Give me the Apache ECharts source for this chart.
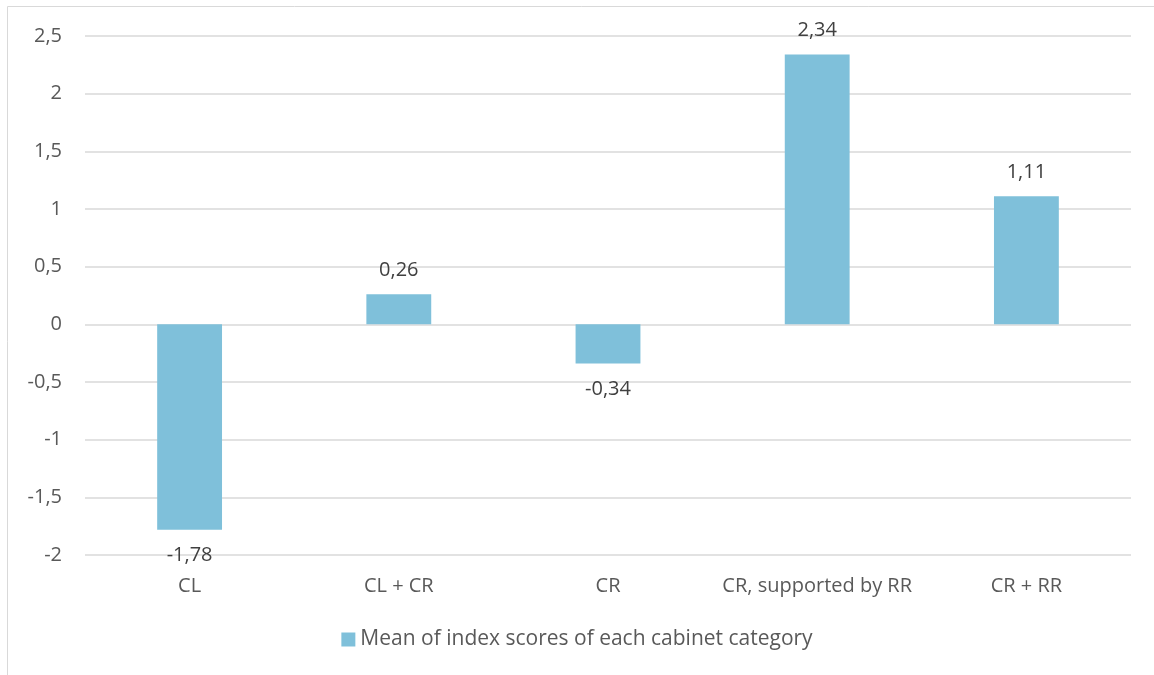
<!DOCTYPE html>
<html>
<head>
<meta charset="utf-8">
<script src="https://cdn.jsdelivr.net/npm/echarts@6/dist/echarts.min.js"></script>
<style>
  html, body { margin: 0; padding: 0; background: #fff; }
  #chart { width: 1154px; height: 675px; }
</style>
</head>
<body>
<div id="chart"></div>
<script>
const categories = ['CL', 'CL + CR', 'CR', 'CR, supported by RR', 'CR + RR']
const meanScores = [-1.78, 0.26, -0.34, 2.34, 1.11]
const seriesName = 'Mean of index scores of each cabinet category'

const fmt = (v) => String(v).replace('.', ',')
const textColor = '#595959'
const font = '"Open Sans", "Liberation Sans", sans-serif'
const fs = 20

const chart = echarts.init(document.getElementById('chart'))

chart.setOption({
  animation: false,
  textStyle: { fontFamily: font },
  graphic: [{
    type: 'rect',
    shape: { x: 7.5, y: 6.5, width: 1200, height: 700 },
    style: { fill: 'none', stroke: '#d9d9d9', lineWidth: 1 },
    silent: true
  }],
  grid: { left: 85, right: 23, top: 36, bottom: 120 },
  legend: {
    bottom: 20,
    left: 'center',
    itemWidth: 14,
    itemHeight: 14,
    icon: 'rect',
    itemGap: 7,
    textStyle: { color: textColor, fontSize: 21, fontFamily: font }
  },
  xAxis: {
    type: 'category',
    data: categories,
    axisLine: { show: false },
    axisTick: { show: false },
    axisLabel: { color: textColor, fontSize: fs, margin: 21, interval: 0, fontFamily: font }
  },
  yAxis: {
    type: 'value',
    min: -2,
    max: 2.5,
    interval: 0.5,
    axisLine: { show: false },
    axisTick: { show: false },
    axisLabel: {
      color: textColor, fontSize: fs, margin: 23, fontFamily: font,
      formatter: (v) => fmt(v)
    },
    splitLine: { lineStyle: { color: '#d9d9d9', width: 1.5 } }
  },
  series: [{
    name: seriesName,
    type: 'bar',
    barWidth: '31%',
    itemStyle: { color: '#7fc0da' },
    data: meanScores.map((v) => ({
      value: v,
      label: {
        show: true,
        position: v >= 0 ? 'top' : 'bottom',
        distance: v >= 0 ? 14 : 16,
        color: '#404040',
        fontSize: fs,
        fontFamily: font,
        formatter: (p) => fmt(p.value)
      }
    }))
  }]
})
</script>
</body>
</html>
